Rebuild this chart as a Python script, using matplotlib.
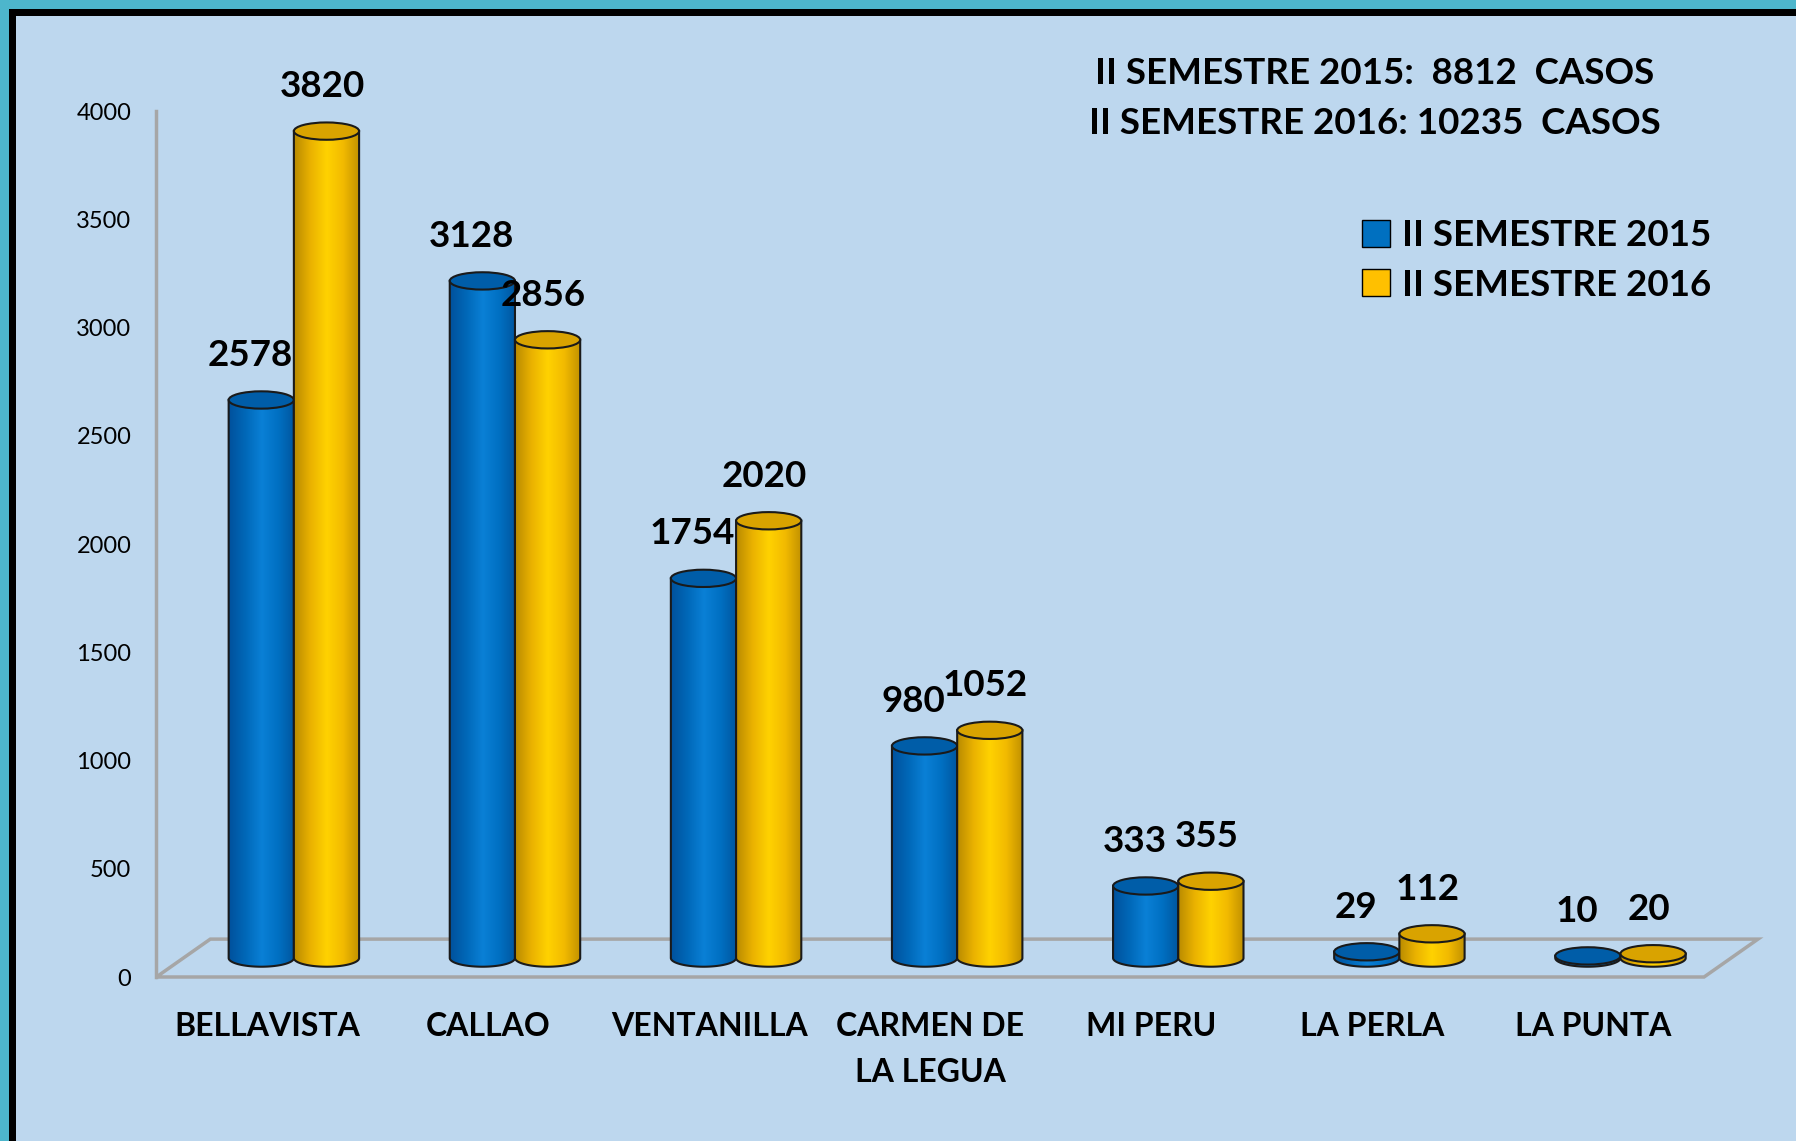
import numpy as np
import matplotlib
matplotlib.use('Agg')
import matplotlib.pyplot as plt
from matplotlib.patches import Ellipse, PathPatch, Rectangle, Patch
from matplotlib.path import Path
from matplotlib.colors import LinearSegmentedColormap

plt.rcParams['font.family'] = ['Lato', 'DejaVu Sans']

# data
districts = ['BELLAVISTA', 'CALLAO', 'VENTANILLA', 'CARMEN DE\nLA LEGUA', 'MI PERU', 'LA PERLA', 'LA PUNTA']
sem_2015 = [2578, 3128, 1754, 980, 333, 29, 10]
sem_2016 = [3820, 2856, 2020, 1052, 355, 112, 20]
series_names = ['II SEMESTRE 2015', 'II SEMESTRE 2016']
totals = ['II SEMESTRE 2015:  8812  CASOS', 'II SEMESTRE 2016: 10235  CASOS']
yticks = [0, 500, 1000, 1500, 2000, 2500, 3000, 3500, 4000]

W, H = 1796, 1141
fig = plt.figure(figsize=(W / 100, H / 100), dpi=100)
fig.patch.set_facecolor('#4DB6CC')
# black frame + light blue panel
fig.patches.append(Rectangle((9 / W, -0.1), 1.2, (H - 9) / H + 0.1, transform=fig.transFigure,
                             facecolor='black', edgecolor='none', zorder=-2))
fig.patches.append(Rectangle((16 / W, -0.1), 1.2, (H - 16) / H + 0.1, transform=fig.transFigure,
                             facecolor='#BDD7EE', edgecolor='none', zorder=-1))

# axes laid out so that category i (front of floor) sits at px 266.9 + 221.1*i
px_cat0, px_step = 266.9, 221.1
px_zero, px_per_unit = 164.0, 0.21648
left_px = px_cat0 - 0.5 * px_step
ax = fig.add_axes([left_px / W, 0, 1 - left_px / W, 1])
ax.patch.set_visible(False)

# pseudo-3D depth
depth_x, depth_y = 0.244, 175
mid_x, mid_y = depth_x / 2, depth_y / 2
cyl_w = 0.295
ell_h = 80

floor_col = '#A6A6A6'
x_l, x_r = -0.5, len(districts) - 0.5
ax.plot([x_l, x_r, x_r + depth_x, x_l + depth_x, x_l], [0, 0, depth_y, depth_y, 0],
        color=floor_col, lw=2.5, zorder=1, solid_joinstyle='miter')

for s in ['top', 'right', 'bottom']:
    ax.spines[s].set_visible(False)
ax.spines['left'].set_bounds(0, 4000)
ax.spines['left'].set_color(floor_col)
ax.spines['left'].set_linewidth(2.5)
ax.set_yticks(yticks)
ax.tick_params(axis='y', length=0, pad=18, labelsize=17, labelcolor='black')
ax.spines['bottom'].set_position(('data', 0))
ax.set_xticks(range(len(districts)))
ax.set_xticklabels(districts, fontsize=23, fontweight='bold', linespacing=1.7)
ax.tick_params(axis='x', length=0, pad=25)

blue_cmap = LinearSegmentedColormap.from_list('b', ['#00519C', '#0068B8', '#0A80D6', '#0070C2', '#00559E'])
gold_cmap = LinearSegmentedColormap.from_list('g', ['#B88A00', '#EAB200', '#FFD200', '#F2BA00', '#C09000'])
grad = np.linspace(0, 1, 256).reshape(1, -1)


def cylinder(xc, v, cmap, top_col, z):
    x0, x1 = xc - cyl_w / 2, xc + cyl_w / 2
    base, top = mid_y, v + mid_y
    t = np.linspace(np.pi, 2 * np.pi, 60)
    verts = [(x0, top), (x0, base)]
    verts += list(zip(xc + cyl_w / 2 * np.cos(t), base + ell_h / 2 * np.sin(t)))
    verts += [(x1, top), (x0, top)]
    codes = [Path.MOVETO] + [Path.LINETO] * (len(verts) - 2) + [Path.CLOSEPOLY]
    body = PathPatch(Path(verts, codes), facecolor='none', edgecolor='#1A1A1A', lw=1.5, zorder=z + 0.1)
    ax.add_patch(body)
    im = ax.imshow(grad, cmap=cmap, extent=[x0, x1, base - ell_h, top], aspect='auto',
                   zorder=z, interpolation='bicubic')
    im.set_clip_path(body)
    ax.add_patch(Ellipse((xc, top), cyl_w, ell_h, facecolor=top_col, edgecolor='#1A1A1A',
                         lw=1.5, zorder=z + 0.2))


for i in range(len(districts)):
    cx = i + mid_x
    xb, xy = cx - cyl_w / 2, cx + cyl_w / 2
    cylinder(xb, sem_2015[i], blue_cmap, '#005DA8', 2 + i)
    cylinder(xy, sem_2016[i], gold_cmap, '#D9A300', 2.5 + i)
    ax.text(xb - 0.05, sem_2015[i] + 245, str(sem_2015[i]), ha='center', va='baseline',
            fontsize=26.5, fontweight='bold', zorder=20)
    ax.text(xy - 0.02, sem_2016[i] + 245, str(sem_2016[i]), ha='center', va='baseline',
            fontsize=26.5, fontweight='bold', zorder=20)

ax.set_xlim(-0.5, (W - px_cat0) / px_step)
ax.set_ylim(-px_zero / px_per_unit, (H - px_zero) / px_per_unit)

# totals
fig.text(1375 / W, 1 - 73 / H, totals[0], ha='center', va='center', fontsize=26.5, fontweight='bold')
fig.text(1375 / W, 1 - 124 / H, totals[1], ha='center', va='center', fontsize=26.5, fontweight='bold')

handles = [Patch(facecolor='#0070C0', edgecolor='black'), Patch(facecolor='#FFC000', edgecolor='black')]
fig.legend(handles, series_names, loc='upper left', bbox_to_anchor=(1362 / W, 1 - 219 / H),
           frameon=False, prop={'weight': 'bold', 'size': 26.5}, borderpad=0,
           borderaxespad=0, handlelength=0.75, handleheight=0.75, handletextpad=0.35, labelspacing=0.45)

fig.savefig('out.png', dpi=100, facecolor=fig.get_facecolor())
